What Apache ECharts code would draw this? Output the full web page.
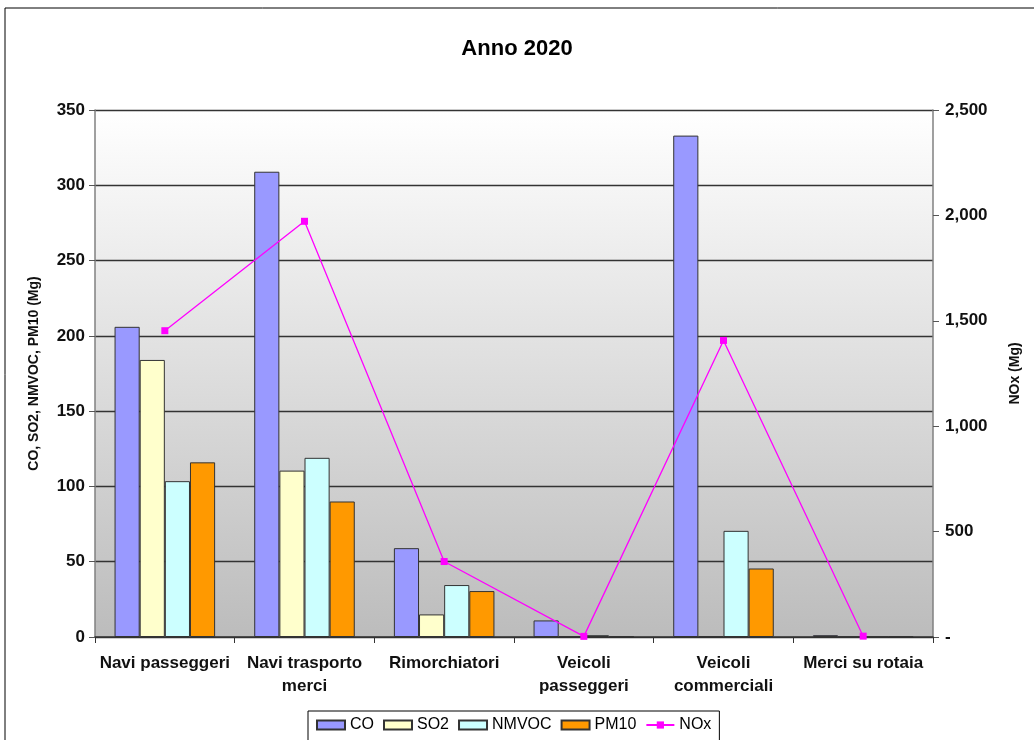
<!DOCTYPE html>
<html>
<head>
<meta charset="utf-8">
<script src="https://cdn.jsdelivr.net/npm/echarts@6/dist/echarts.min.js"></script>
<style>
html,body{margin:0;padding:0;background:#fff;}
#c{width:1034px;height:740px;}
</style>
</head>
<body>
<div id="c"></div>
<script>
const categories = ["Navi passeggeri", "Navi trasporto\nmerci", "Rimorchiatori", "Veicoli\npasseggeri", "Veicoli\ncommerciali", "Merci su rotaia"];
const CO = [206, 309, 59, 11, 333, 1.2];
const SO2 = [184, 110.5, 15, 0.3, 0.5, 0.1];
const NMVOC = [103.5, 119, 34.5, 1.2, 70.5, 0.2];
const PM10 = [116, 90, 30.5, 0.5, 45.5, 0.5];
const NOx = [1453, 1972, 358, 3, 1407, 4];
const leftTicks = { min: 0, max: 350, interval: 50 };
const rightTicks = { min: 0, max: 2500, interval: 500 };

const chart = echarts.init(document.getElementById('c'), null, { renderer: 'canvas' });
const font = 'Liberation Sans, Arial, sans-serif';
const barBorder = { borderColor: '#333333', borderWidth: 1 };

const option = {
  animation: false,
  backgroundColor: '#ffffff',
  textStyle: { fontFamily: font },
  title: {
    text: 'Anno 2020', left: 'center', top: 33,
    textStyle: { fontFamily: font, fontSize: 22, fontWeight: 'bold', color: '#000' }
  },
  graphic: [{
    type: 'rect', shape: { x: 5, y: 8, width: 1040, height: 760 },
    style: { fill: 'none', stroke: '#000', lineWidth: 1 }, silent: true, z: -1
  }],
  legend: {
    top: 711, left: 308,
    padding: [6, 8, 8, 8],
    borderColor: '#000', borderWidth: 1,
    itemGap: 9, itemWidth: 28, itemHeight: 9,
    textStyle: { fontFamily: font, fontSize: 16, color: '#000' },
    data: [
      { name: 'CO', icon: 'rect' }, { name: 'SO2', icon: 'rect' },
      { name: 'NMVOC', icon: 'rect' }, { name: 'PM10', icon: 'rect' }, { name: 'NOx' }
    ]
  },
  grid: {
    left: 95, right: 101, top: 110, bottom: 103,
    show: true, borderWidth: 0,
    backgroundColor: new echarts.graphic.LinearGradient(0, 0, 0, 1, [
      { offset: 0, color: '#ffffff' }, { offset: 1, color: '#bcbcbc' }
    ])
  },
  xAxis: {
    type: 'category', data: categories,
    axisLine: { lineStyle: { color: '#333', width: 1.5 } },
    axisTick: { show: true, length: 6, lineStyle: { color: '#333' } },
    axisLabel: { fontFamily: font, fontSize: 17, fontWeight: 'bold', color: '#111', margin: 15, lineHeight: 23, interval: 0 }
  },
  yAxis: [{
    type: 'value', min: leftTicks.min, max: leftTicks.max, interval: leftTicks.interval,
    name: 'CO, SO2, NMVOC, PM10 (Mg)', nameLocation: 'middle', nameGap: 54, nameRotate: 90,
    nameTextStyle: { fontFamily: font, fontSize: 14, fontWeight: 'bold', color: '#111' },
    axisLine: { show: true, lineStyle: { color: '#808080', width: 1.5 } },
    axisTick: { show: true, length: 6, lineStyle: { color: '#555' } },
    axisLabel: { fontFamily: font, fontSize: 17, fontWeight: 'bold', color: '#111', margin: 10 },
    splitLine: { show: true, lineStyle: { color: '#333', width: 1.3 } }
  }, {
    type: 'value', min: rightTicks.min, max: rightTicks.max, interval: rightTicks.interval,
    name: 'NOx (Mg)', nameLocation: 'middle', nameGap: 75, nameRotate: 90,
    nameTextStyle: { fontFamily: font, fontSize: 14, fontWeight: 'bold', color: '#111' },
    axisLine: { show: true, lineStyle: { color: '#808080', width: 1.5 } },
    axisTick: { show: true, length: 6, lineStyle: { color: '#555' } },
    axisLabel: {
      fontFamily: font, fontSize: 17, fontWeight: 'bold', color: '#111', margin: 12,
      formatter: v => v === 0 ? '-' : v.toLocaleString('en-US')
    },
    splitLine: { show: false }
  }],
  series: [
    { name: 'CO', type: 'bar', data: CO, barGap: '0%', barCategoryGap: '28%', itemStyle: Object.assign({ color: '#9999ff' }, barBorder) },
    { name: 'SO2', type: 'bar', data: SO2, itemStyle: Object.assign({ color: '#ffffcc' }, barBorder) },
    { name: 'NMVOC', type: 'bar', data: NMVOC, itemStyle: Object.assign({ color: '#ccffff' }, barBorder) },
    { name: 'PM10', type: 'bar', data: PM10, itemStyle: Object.assign({ color: '#ff9900' }, barBorder) },
    {
      name: 'NOx', type: 'line', yAxisIndex: 1, data: NOx,
      symbol: 'rect', symbolSize: 7, showSymbol: true,
      lineStyle: { color: '#ff00ff', width: 1.3 }, itemStyle: { color: '#ff00ff' }, z: 5
    }
  ]
};
chart.setOption(option);
</script>
</body>
</html>
